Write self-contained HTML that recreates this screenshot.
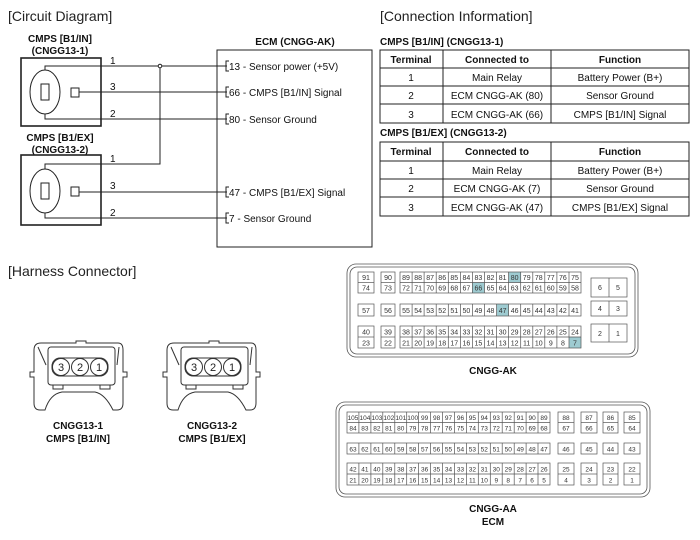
<!DOCTYPE html>
<html><head><meta charset="utf-8"><style>
html,body{margin:0;padding:0;background:#fff;}
svg{display:block;font-family:"Liberation Sans",Arial,sans-serif;}
.c{font-size:7px;fill:#333;text-anchor:middle;}
.b{font-weight:bold;}
</style></head><body>
<svg width="700" height="540" viewBox="0 0 700 540" xmlns="http://www.w3.org/2000/svg">
<g font-size="14" fill="#222">
<text x="8" y="21">[Circuit Diagram]</text>
<text x="380" y="21">[Connection Information]</text>
<text x="8" y="276">[Harness Connector]</text>
</g>
<!-- circuit -->
<g font-size="10" font-weight="bold" text-anchor="middle" fill="#111">
<text x="60" y="42">CMPS [B1/IN]</text>
<text x="60" y="54">(CNGG13-1)</text>
<text x="60" y="141">CMPS [B1/EX]</text>
<text x="60" y="153">(CNGG13-2)</text>
<text x="295" y="45">ECM (CNGG-AK)</text>
</g>
<g fill="none" stroke="#222" stroke-width="1">
<rect x="21" y="58" width="80" height="68" stroke-width="1.6"/>
<rect x="21" y="155" width="80" height="70" stroke-width="1.6"/>
<rect x="217" y="50" width="155" height="197"/>
<ellipse cx="45" cy="92" rx="15" ry="22"/>
<rect x="41" y="84" width="8" height="16"/>
<rect x="71" y="88" width="8" height="9"/>
<ellipse cx="45" cy="191" rx="15" ry="22"/>
<rect x="41" y="183" width="8" height="16"/>
<rect x="71" y="187" width="8" height="9"/>
<polyline points="45,70 45,66 227,66"/>
<polyline points="45,114 45,119 227,119"/>
<line x1="79" y1="92" x2="227" y2="92"/>
<polyline points="45,169 45,164 160,164 160,68"/>
<circle cx="160" cy="66" r="1.8" fill="#fff"/>
<polyline points="45,213 45,218 227,218"/>
<line x1="79" y1="192" x2="227" y2="192"/>
<polyline points="229,61 226,61 226,71 229,71"/>
<polyline points="229,87 226,87 226,97 229,97"/>
<polyline points="229,114 226,114 226,124 229,124"/>
<polyline points="229,187 226,187 226,197 229,197"/>
<polyline points="229,213 226,213 226,223 229,223"/>
</g>
<g font-size="10" fill="#111">
<text x="110" y="64">1</text><text x="110" y="90">3</text><text x="110" y="117">2</text>
<text x="110" y="162">1</text><text x="110" y="189">3</text><text x="110" y="216">2</text>
<text x="229" y="70">13 - Sensor power (+5V)</text>
<text x="229" y="96">66 - CMPS [B1/IN] Signal</text>
<text x="229" y="123">80 - Sensor Ground</text>
<text x="229" y="196">47 - CMPS [B1/EX] Signal</text>
<text x="229" y="222">7 - Sensor Ground</text>
</g>
<!-- tables -->
<g font-size="10" fill="#111">
<text x="380" y="45" font-weight="bold">CMPS [B1/IN] (CNGG13-1)</text>
<text x="380" y="136" font-weight="bold">CMPS [B1/EX] (CNGG13-2)</text>
</g>
<g fill="none" stroke="#222" stroke-width="1">
<rect x="380" y="50" width="309" height="73"/>
<line x1="380" y1="68" x2="689" y2="68"/><line x1="380" y1="86" x2="689" y2="86"/><line x1="380" y1="104" x2="689" y2="104"/>
<line x1="443" y1="50" x2="443" y2="123"/><line x1="551" y1="50" x2="551" y2="123"/>
<rect x="380" y="142" width="309" height="74"/>
<line x1="380" y1="161" x2="689" y2="161"/><line x1="380" y1="179" x2="689" y2="179"/><line x1="380" y1="197" x2="689" y2="197"/>
<line x1="443" y1="142" x2="443" y2="216"/><line x1="551" y1="142" x2="551" y2="216"/>
</g>
<g font-size="10" fill="#111" text-anchor="middle">
<text x="411" y="63" font-weight="bold">Terminal</text><text x="497" y="63" font-weight="bold">Connected to</text><text x="620" y="63" font-weight="bold">Function</text>
<text x="411" y="81">1</text><text x="497" y="81">Main Relay</text><text x="620" y="81">Battery Power (B+)</text>
<text x="411" y="99">2</text><text x="497" y="99">ECM CNGG-AK (80)</text><text x="620" y="99">Sensor Ground</text>
<text x="411" y="118">3</text><text x="497" y="118">ECM CNGG-AK (66)</text><text x="620" y="118">CMPS [B1/IN] Signal</text>
<text x="411" y="155" font-weight="bold">Terminal</text><text x="497" y="155" font-weight="bold">Connected to</text><text x="620" y="155" font-weight="bold">Function</text>
<text x="411" y="174">1</text><text x="497" y="174">Main Relay</text><text x="620" y="174">Battery Power (B+)</text>
<text x="411" y="192">2</text><text x="497" y="192">ECM CNGG-AK (7)</text><text x="620" y="192">Sensor Ground</text>
<text x="411" y="211">3</text><text x="497" y="211">ECM CNGG-AK (47)</text><text x="620" y="211">CMPS [B1/EX] Signal</text>
</g>
<!-- harness connectors -->
<g id="hc" fill="none" stroke="#333" stroke-width="1">
<path d="M41,343 L76,343 L76,341 L86,341 L86,343 L118,343 Q123,343 123,350 L123,372 L127,372 L127,377 L123,377 L123,403 Q123,410 117,410 L113,410 Q105,394 95,392 L62,392 Q50,394 45,410 L40,410 Q34,410 34,403 L34,377 L30,377 L30,372 L34,372 L34,350 Q34,343 41,343 Z"/>
<rect x="48" y="347" width="67" height="38" rx="3"/>
<line x1="38" y1="347" x2="46" y2="365"/><line x1="119" y1="347" x2="117" y2="365"/>
<rect x="53" y="385" width="10" height="4"/><rect x="100" y="385" width="10" height="4"/>
<rect x="52" y="358" width="56" height="18" rx="8"/>
<circle cx="61" cy="367" r="8.5"/><circle cx="80" cy="367" r="8.5"/><circle cx="99" cy="367" r="8.5"/>
</g>
<use href="#hc" x="133" y="0"/>
<g font-size="11" fill="#222" text-anchor="middle">
<text x="61" y="371">3</text><text x="80" y="371">2</text><text x="99" y="371">1</text>
<text x="194" y="371">3</text><text x="213" y="371">2</text><text x="232" y="371">1</text>
</g>
<g font-size="10" font-weight="bold" fill="#111" text-anchor="middle">
<text x="78" y="429">CNGG13-1</text><text x="78" y="442">CMPS [B1/IN]</text>
<text x="212" y="429">CNGG13-2</text><text x="212" y="442">CMPS [B1/EX]</text>
<text x="493" y="374">CNGG-AK</text>
<text x="493" y="512">CNGG-AA</text><text x="493" y="525">ECM</text>
</g>
<!-- CNGG-AK -->
<g fill="none" stroke="#555" stroke-width="0.8">
<rect x="347" y="264" width="291" height="93" rx="9"/>
<rect x="350" y="267" width="285" height="87" rx="7"/>
</g>
<g fill="#9ecbd1">
<rect x="508.6" y="272" width="12.07" height="10.5"/>
<rect x="472.4" y="282.5" width="12.07" height="10.5"/>
<rect x="496.6" y="304" width="12.07" height="12"/>
<rect x="569" y="337" width="12.07" height="11"/>
</g>
<g fill="none" stroke="#555" stroke-width="0.7">
<rect x="358" y="272" width="16" height="21"/><line x1="358" y1="282.5" x2="374" y2="282.5"/>
<rect x="381" y="272" width="14" height="21"/><line x1="381" y1="282.5" x2="395" y2="282.5"/>
<rect x="400" y="272" width="181" height="21"/><line x1="400" y1="282.5" x2="581" y2="282.5"/>
<rect x="358" y="304" width="16" height="12"/><rect x="381" y="304" width="14" height="12"/><rect x="400" y="304" width="181" height="12"/>
<rect x="358" y="326" width="16" height="22"/><line x1="358" y1="337" x2="374" y2="337"/>
<rect x="381" y="326" width="14" height="22"/><line x1="381" y1="337" x2="395" y2="337"/>
<rect x="400" y="326" width="181" height="22"/><line x1="400" y1="337" x2="581" y2="337"/>
<path d="M412.1,272V293M424.1,272V293M436.2,272V293M448.3,272V293M460.4,272V293M472.4,272V293M484.5,272V293M496.6,272V293M508.6,272V293M520.7,272V293M532.8,272V293M544.8,272V293M556.9,272V293M569,272V293"/>
<path d="M412.1,304V316M424.1,304V316M436.2,304V316M448.3,304V316M460.4,304V316M472.4,304V316M484.5,304V316M496.6,304V316M508.6,304V316M520.7,304V316M532.8,304V316M544.8,304V316M556.9,304V316M569,304V316"/>
<path d="M412.1,326V348M424.1,326V348M436.2,326V348M448.3,326V348M460.4,326V348M472.4,326V348M484.5,326V348M496.6,326V348M508.6,326V348M520.7,326V348M532.8,326V348M544.8,326V348M556.9,326V348M569,326V348"/>
<rect x="591" y="278" width="36" height="19"/><line x1="609" y1="278" x2="609" y2="297"/>
<rect x="591" y="301" width="36" height="15"/><line x1="609" y1="301" x2="609" y2="316"/>
<rect x="591" y="324" width="36" height="18"/><line x1="609" y1="324" x2="609" y2="342"/>
</g>
<g class="c">
<text y="280"><tspan x="366">91</tspan><tspan x="388">90</tspan><tspan x="406">89</tspan><tspan x="418.1">88</tspan><tspan x="430.1">87</tspan><tspan x="442.2">86</tspan><tspan x="454.3">85</tspan><tspan x="466.4">84</tspan><tspan x="478.4">83</tspan><tspan x="490.5">82</tspan><tspan x="502.6">81</tspan><tspan x="514.6">80</tspan><tspan x="526.7">79</tspan><tspan x="538.8">78</tspan><tspan x="550.8">77</tspan><tspan x="562.9">76</tspan><tspan x="575">75</tspan></text>
<text y="290.5"><tspan x="366">74</tspan><tspan x="388">73</tspan><tspan x="406">72</tspan><tspan x="418.1">71</tspan><tspan x="430.1">70</tspan><tspan x="442.2">69</tspan><tspan x="454.3">68</tspan><tspan x="466.4">67</tspan><tspan x="478.4">66</tspan><tspan x="490.5">65</tspan><tspan x="502.6">64</tspan><tspan x="514.6">63</tspan><tspan x="526.7">62</tspan><tspan x="538.8">61</tspan><tspan x="550.8">60</tspan><tspan x="562.9">59</tspan><tspan x="575">58</tspan></text>
<text y="313"><tspan x="366">57</tspan><tspan x="388">56</tspan><tspan x="406">55</tspan><tspan x="418.1">54</tspan><tspan x="430.1">53</tspan><tspan x="442.2">52</tspan><tspan x="454.3">51</tspan><tspan x="466.4">50</tspan><tspan x="478.4">49</tspan><tspan x="490.5">48</tspan><tspan x="502.6">47</tspan><tspan x="514.6">46</tspan><tspan x="526.7">45</tspan><tspan x="538.8">44</tspan><tspan x="550.8">43</tspan><tspan x="562.9">42</tspan><tspan x="575">41</tspan></text>
<text y="334.5"><tspan x="366">40</tspan><tspan x="388">39</tspan><tspan x="406">38</tspan><tspan x="418.1">37</tspan><tspan x="430.1">36</tspan><tspan x="442.2">35</tspan><tspan x="454.3">34</tspan><tspan x="466.4">33</tspan><tspan x="478.4">32</tspan><tspan x="490.5">31</tspan><tspan x="502.6">30</tspan><tspan x="514.6">29</tspan><tspan x="526.7">28</tspan><tspan x="538.8">27</tspan><tspan x="550.8">26</tspan><tspan x="562.9">25</tspan><tspan x="575">24</tspan></text>
<text y="345.5"><tspan x="366">23</tspan><tspan x="388">22</tspan><tspan x="406">21</tspan><tspan x="418.1">20</tspan><tspan x="430.1">19</tspan><tspan x="442.2">18</tspan><tspan x="454.3">17</tspan><tspan x="466.4">16</tspan><tspan x="478.4">15</tspan><tspan x="490.5">14</tspan><tspan x="502.6">13</tspan><tspan x="514.6">12</tspan><tspan x="526.7">11</tspan><tspan x="538.8">10</tspan><tspan x="550.8">9</tspan><tspan x="562.9">8</tspan><tspan x="575">7</tspan></text>
<text y="290"><tspan x="600">6</tspan><tspan x="618">5</tspan></text>
<text y="311"><tspan x="600">4</tspan><tspan x="618">3</tspan></text>
<text y="336"><tspan x="600">2</tspan><tspan x="618">1</tspan></text>
</g>
<!-- CNGG-AA -->
<g fill="none" stroke="#555" stroke-width="0.8">
<rect x="336" y="402" width="314" height="95" rx="9"/>
<rect x="339" y="405" width="308" height="89" rx="7"/>
</g>
<g fill="none" stroke="#555" stroke-width="0.7">
<rect x="347" y="412" width="203" height="21"/><line x1="347" y1="422.5" x2="550" y2="422.5"/>
<rect x="347" y="443" width="203" height="11"/>
<rect x="347" y="463" width="203" height="22"/><line x1="347" y1="474" x2="550" y2="474"/>
<path d="M358.9,412V433M370.9,412V433M382.8,412V433M394.8,412V433M406.7,412V433M418.6,412V433M430.6,412V433M442.5,412V433M454.5,412V433M466.4,412V433M478.3,412V433M490.3,412V433M502.2,412V433M514.2,412V433M526.1,412V433M538,412V433"/>
<path d="M358.9,443V454M370.9,443V454M382.8,443V454M394.8,443V454M406.7,443V454M418.6,443V454M430.6,443V454M442.5,443V454M454.5,443V454M466.4,443V454M478.3,443V454M490.3,443V454M502.2,443V454M514.2,443V454M526.1,443V454M538,443V454"/>
<path d="M358.9,463V485M370.9,463V485M382.8,463V485M394.8,463V485M406.7,463V485M418.6,463V485M430.6,463V485M442.5,463V485M454.5,463V485M466.4,463V485M478.3,463V485M490.3,463V485M502.2,463V485M514.2,463V485M526.1,463V485M538,463V485"/>
<rect x="558" y="412" width="16" height="21"/><line x1="558" y1="422.5" x2="574" y2="422.5"/>
<rect x="581" y="412" width="16" height="21"/><line x1="581" y1="422.5" x2="597" y2="422.5"/>
<rect x="603" y="412" width="15" height="21"/><line x1="603" y1="422.5" x2="618" y2="422.5"/>
<rect x="624" y="412" width="16" height="21"/><line x1="624" y1="422.5" x2="640" y2="422.5"/>
<rect x="558" y="443" width="16" height="11"/><rect x="581" y="443" width="16" height="11"/><rect x="603" y="443" width="15" height="11"/><rect x="624" y="443" width="16" height="11"/>
<rect x="558" y="463" width="16" height="22"/><line x1="558" y1="474" x2="574" y2="474"/>
<rect x="581" y="463" width="16" height="22"/><line x1="581" y1="474" x2="597" y2="474"/>
<rect x="603" y="463" width="15" height="22"/><line x1="603" y1="474" x2="618" y2="474"/>
<rect x="624" y="463" width="16" height="22"/><line x1="624" y1="474" x2="640" y2="474"/>
</g>
<g class="c" style="font-size:6.5px">
<text y="420"><tspan x="353">105</tspan><tspan x="364.9">104</tspan><tspan x="376.9">103</tspan><tspan x="388.8">102</tspan><tspan x="400.8">101</tspan><tspan x="412.7">100</tspan><tspan x="424.6">99</tspan><tspan x="436.6">98</tspan><tspan x="448.5">97</tspan><tspan x="460.5">96</tspan><tspan x="472.4">95</tspan><tspan x="484.3">94</tspan><tspan x="496.3">93</tspan><tspan x="508.2">92</tspan><tspan x="520.2">91</tspan><tspan x="532.1">90</tspan><tspan x="544">89</tspan><tspan x="566">88</tspan><tspan x="589">87</tspan><tspan x="610.5">86</tspan><tspan x="632">85</tspan></text>
<text y="430.5"><tspan x="353">84</tspan><tspan x="364.9">83</tspan><tspan x="376.9">82</tspan><tspan x="388.8">81</tspan><tspan x="400.8">80</tspan><tspan x="412.7">79</tspan><tspan x="424.6">78</tspan><tspan x="436.6">77</tspan><tspan x="448.5">76</tspan><tspan x="460.5">75</tspan><tspan x="472.4">74</tspan><tspan x="484.3">73</tspan><tspan x="496.3">72</tspan><tspan x="508.2">71</tspan><tspan x="520.2">70</tspan><tspan x="532.1">69</tspan><tspan x="544">68</tspan><tspan x="566">67</tspan><tspan x="589">66</tspan><tspan x="610.5">65</tspan><tspan x="632">64</tspan></text>
<text y="451.5"><tspan x="353">63</tspan><tspan x="364.9">62</tspan><tspan x="376.9">61</tspan><tspan x="388.8">60</tspan><tspan x="400.8">59</tspan><tspan x="412.7">58</tspan><tspan x="424.6">57</tspan><tspan x="436.6">56</tspan><tspan x="448.5">55</tspan><tspan x="460.5">54</tspan><tspan x="472.4">53</tspan><tspan x="484.3">52</tspan><tspan x="496.3">51</tspan><tspan x="508.2">50</tspan><tspan x="520.2">49</tspan><tspan x="532.1">48</tspan><tspan x="544">47</tspan><tspan x="566">46</tspan><tspan x="589">45</tspan><tspan x="610.5">44</tspan><tspan x="632">43</tspan></text>
<text y="471.5"><tspan x="353">42</tspan><tspan x="364.9">41</tspan><tspan x="376.9">40</tspan><tspan x="388.8">39</tspan><tspan x="400.8">38</tspan><tspan x="412.7">37</tspan><tspan x="424.6">36</tspan><tspan x="436.6">35</tspan><tspan x="448.5">34</tspan><tspan x="460.5">33</tspan><tspan x="472.4">32</tspan><tspan x="484.3">31</tspan><tspan x="496.3">30</tspan><tspan x="508.2">29</tspan><tspan x="520.2">28</tspan><tspan x="532.1">27</tspan><tspan x="544">26</tspan><tspan x="566">25</tspan><tspan x="589">24</tspan><tspan x="610.5">23</tspan><tspan x="632">22</tspan></text>
<text y="482.5"><tspan x="353">21</tspan><tspan x="364.9">20</tspan><tspan x="376.9">19</tspan><tspan x="388.8">18</tspan><tspan x="400.8">17</tspan><tspan x="412.7">16</tspan><tspan x="424.6">15</tspan><tspan x="436.6">14</tspan><tspan x="448.5">13</tspan><tspan x="460.5">12</tspan><tspan x="472.4">11</tspan><tspan x="484.3">10</tspan><tspan x="496.3">9</tspan><tspan x="508.2">8</tspan><tspan x="520.2">7</tspan><tspan x="532.1">6</tspan><tspan x="544">5</tspan><tspan x="566">4</tspan><tspan x="589">3</tspan><tspan x="610.5">2</tspan><tspan x="632">1</tspan></text>
</g>
</svg>
</body></html>
